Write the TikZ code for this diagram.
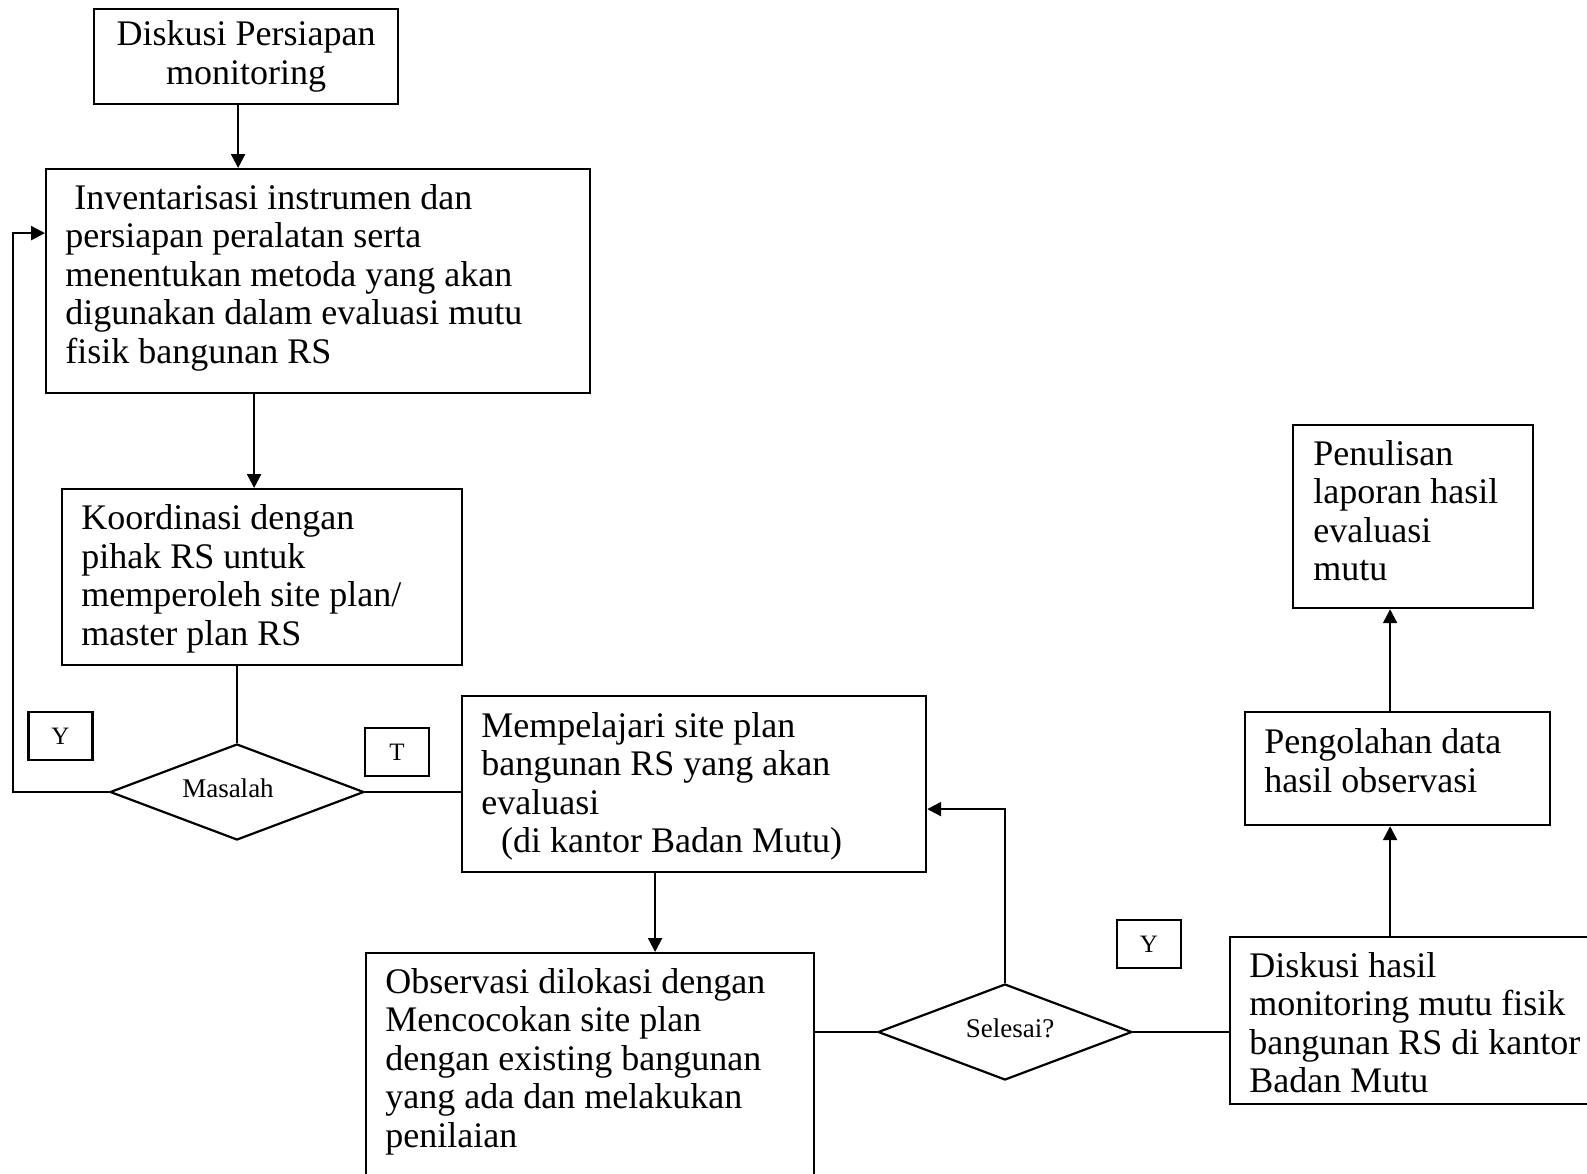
\documentclass[tikz,border=0pt]{standalone}
\usepackage{fontspec}
\setmainfont{Liberation Serif}
\usetikzlibrary{shapes.geometric,arrows.meta,calc}
\tikzset{
  box/.style={draw, line width=1.1pt, rectangle, inner sep=0pt, anchor=north west},
  txt/.style={inner sep=0pt, anchor=north west, align=left,
    font=\fontsize{18}{19.25}\selectfont},
  dec/.style={draw, line width=1.1pt, diamond, aspect=2.65, inner sep=0pt,
    minimum width=127pt, minimum height=48pt, text depth=4pt,
    font=\fontsize{13.5}{15}\selectfont},
  tag/.style={draw, line width=1.1pt, rectangle, inner sep=0pt,
    minimum width=32pt, minimum height=24pt,
    font=\fontsize{12.5}{14}\selectfont},
  link/.style={line width=1.1pt},
  arr/.style={link, -{Triangle[length=7pt,width=7pt]}},
}
\begin{document}
\begin{tikzpicture}[x=0.5pt,y=-0.5pt]
  \fill[white] (0,0) rectangle (1587,1174);
  \useasboundingbox (0,0) rectangle (1587,1174);
  \clip (0,0) rectangle (1587,1174);

  % process boxes
  \node[box, minimum width=152pt, minimum height=47.5pt, align=center,
        font=\fontsize{18}{19.25}\selectfont] (b1) at (93,8)
        {Diskusi Persiapan\\monitoring};

  \node[box, minimum width=272pt, minimum height=112pt] (b2) at (45,168) {};
  \node[txt] (b2t) at (65,184)
    {\hspace*{0.25em}Inventarisasi instrumen dan\\persiapan peralatan serta\\menentukan metoda yang akan\\digunakan dalam evaluasi mutu\\fisik bangunan RS};

  \node[box, minimum width=200pt, minimum height=88pt] (b3) at (61,488) {};
  \node[txt] (b3t) at (81,504.5)
    {Koordinasi dengan\\pihak RS untuk\\memperoleh site plan/\\master plan RS};

  \node[box, minimum width=232pt, minimum height=88pt] (b4) at (461,695) {};
  \node[txt] (b4t) at (481,712)
    {Mempelajari site plan\\bangunan RS yang akan\\evaluasi\\\hspace*{0.55em}(di kantor Badan Mutu)};

  \node[box, minimum width=224pt, minimum height=120pt] (b5) at (365,952) {};
  \node[txt] (b5t) at (385,968)
    {Observasi dilokasi dengan\\Mencocokan site plan\\dengan existing bangunan\\yang ada dan melakukan\\penilaian};

  \node[box, minimum width=185.5pt, minimum height=83.5pt] (b6) at (1229,936) {};
  \node[txt] (b6t) at (1249,952)
    {Diskusi hasil\\monitoring mutu fisik\\bangunan RS di kantor\\Badan Mutu};

  \node[box, minimum width=152.5pt, minimum height=56.5pt] (b7) at (1244,711) {};
  \node[txt] (b7t) at (1264,728.5)
    {Pengolahan data\\hasil observasi};

  \node[box, minimum width=120pt, minimum height=91.5pt] (b8) at (1292,424) {};
  \node[txt] (b8t) at (1313,440)
    {Penulisan\\laporan hasil\\evaluasi\\mutu};

  % decisions
  \node[dec] (d1) at (237,792) {\hspace*{-9pt}Masalah};
  \node[dec] (d2) at (1005,1032) {\hspace*{5pt}Selesai?};

  % answer tags
  \node[tag] (y1) at (60.5,736) {Y};
  \node[tag] (t1) at (397,752) {T};
  \node[tag] (y2) at (1149,944) {Y};

  % connectors
  \coordinate (lp) at (13,792);
  \draw[arr] ([xshift=-4pt]b1.south) -- ([xshift=-4pt]b1.south |- b2.north);
  \draw[arr] ([xshift=-4pt]b3.north |- b2.south) -- ([xshift=-4pt]b3.north);
  \draw[link] (b3.south -| d1.north) -- (d1.north);
  \draw[arr] (d1.west) -- (lp) |- ([yshift=24pt]b2.west);
  \draw[link] (d1.east) -- (d1.east -| b4.west);
  \draw[arr] ([xshift=-19.5pt]b4.south) -- ([xshift=-19.5pt]b4.south |- b5.north);
  \draw[link] (d2.west -| b5.east) -- (d2.west);
  \draw[arr] (d2.north) |- ([yshift=-12.5pt]b4.east);
  \draw[link] (d2.east) -- (d2.east -| b6.west);
  \draw[arr] ([xshift=-3.75pt]b7.south |- b6.north) -- ([xshift=-3.75pt]b7.south);
  \draw[arr] ([xshift=-3.75pt]b7.north) -- ([xshift=-3.75pt]b7.north |- b8.south);
\end{tikzpicture}
\end{document}
